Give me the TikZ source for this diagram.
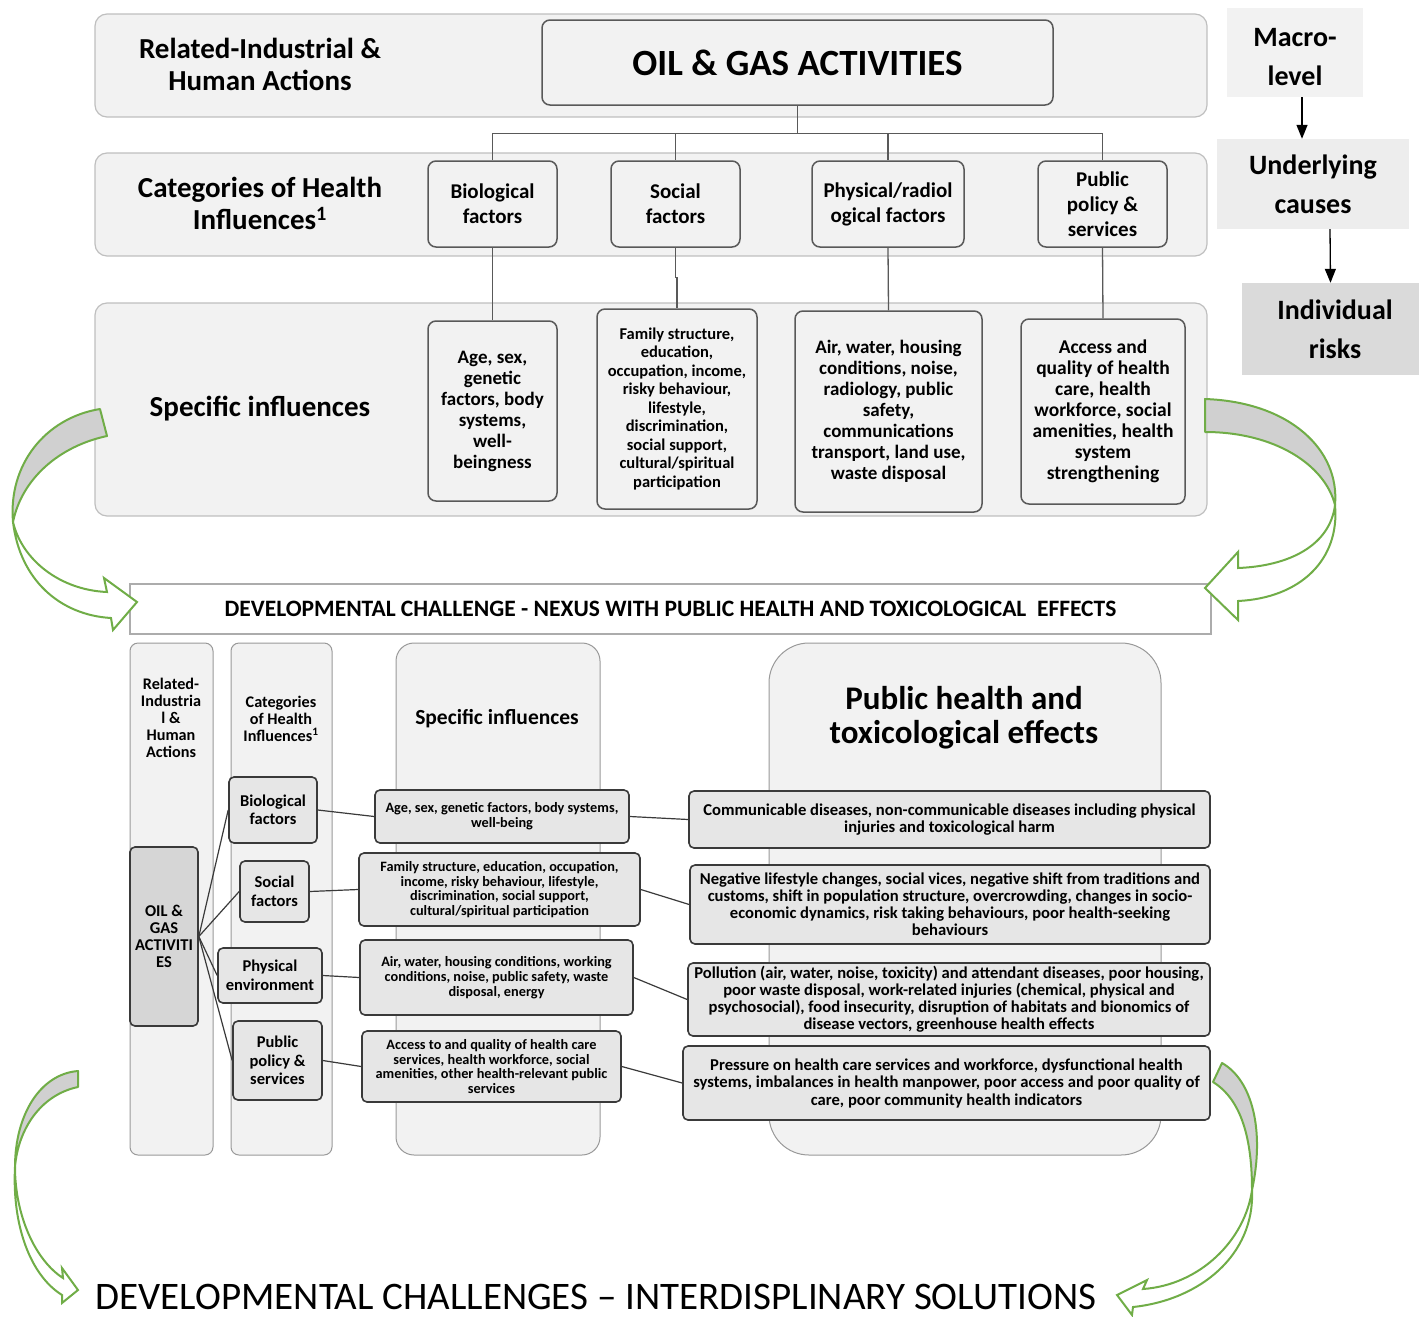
\documentclass[tikz,border=0pt]{standalone}
\usepackage{fontspec}
\setmainfont{Carlito}
\usetikzlibrary{arrows.meta,positioning,calc}
\definecolor{bandfill}{HTML}{F2F2F2}
\definecolor{bandline}{HTML}{BFBFBF}
\definecolor{boxline}{HTML}{595959}
\definecolor{darkline}{HTML}{3A3A3A}
\definecolor{oilfill}{HTML}{D6D6D6}
\definecolor{causefill}{HTML}{EDEDED}
\definecolor{riskfill}{HTML}{DADADA}
\definecolor{arrowgreen}{HTML}{70AD47}
\definecolor{arrowgray}{HTML}{D0D0D0}
\newcommand{\fsz}[2]{\fontsize{#1}{#2}\selectfont\bfseries}
\tikzset{
    band/.style = {draw=bandline, fill=bandfill, line width=1.2pt, rounded corners=12pt, inner sep=0pt},
    row-label/.style = {align=center, font=\fsz{29}{32}},
    top-box/.style = {draw=boxline, fill=bandfill, line width=1.5pt, rounded corners=8pt, inner sep=0pt, align=center, font=\fsz{21}{25}},
    level-box/.style = {inner sep=0pt, align=center, font=\fsz{28}{39}},
    level-arrow/.style = {draw=black, line width=1.3pt, -{Triangle[length=14pt,width=11pt]}},
    tree/.style = {draw=boxline, line width=1.3pt},
    banner/.style = {draw=bandline!90!black, fill=white, line width=1.2pt, inner sep=0pt, font=\fsz{23.5}{27}},
    column/.style = {draw=bandline!80!black, fill=bandfill, line width=1pt, rounded corners=8pt, inner sep=0pt},
    col-label/.style = {align=center, font=\fsz{16.2}{17}},
    low-box/.style = {draw=darkline, fill=bandfill!95!black, line width=1.6pt, rounded corners=5pt, inner sep=0pt, align=center},
    link/.style = {draw=darkline, line width=1.2pt},
    curve-back/.style = {draw=arrowgreen, fill=arrowgray, line width=2pt, line join=round},
    curve-front/.style = {draw=arrowgreen, fill=white, line width=2pt},
}
\begin{document}
\begin{tikzpicture}[x=1pt, y=-1pt]
\useasboundingbox (0,0) rectangle (1419,1317);

% upper scheme
\node[band, minimum width=1112pt, minimum height=103pt] (rowact) at (651,65.5) {};
\node[band, minimum width=1112pt, minimum height=103pt] (rowcat) at (651,204.5) {};
\node[band, minimum width=1112pt, minimum height=213pt] (rowspec) at (651,409.5) {};
\node[row-label] (actlabel) at (260,64) {Related-Industrial \&\\Human Actions};
\node[row-label] (catlabel) at (260,203) {Categories of Health\\Influences\textsuperscript{1}};
\node[row-label] (speclabel) at (260,409) {Specific influences};

\node[top-box, minimum width=511pt, minimum height=85pt, font=\fsz{37}{40}] (oil) at (797.5,62.5) {OIL \& GAS ACTIVITIES};
\node[top-box, minimum width=129pt, minimum height=86pt] (bio) at (492.5,204) {Biological\\factors};
\node[top-box, minimum width=129pt, minimum height=86pt] (soc) at (675.5,204) {Social\\factors};
\node[top-box, minimum width=152pt, minimum height=86pt] (phys) at (888,204) {Physical/radiol\\ogical factors};
\node[top-box, minimum width=129pt, minimum height=86pt] (pub) at (1102.5,204) {Public\\policy \&\\services};

\node[top-box, minimum width=129pt, minimum height=180pt, font=\fsz{19}{21}] (age) at (492.5,411) {Age, sex,\\genetic\\factors, body\\systems,\\well-\\beingness};
\node[top-box, minimum width=160pt, minimum height=200pt, font=\fsz{16.5}{18.5}] (fam) at (677,409) {Family structure,\\education,\\occupation, income,\\risky behaviour,\\lifestyle,\\discrimination,\\social support,\\cultural/spiritual\\participation};
\node[top-box, minimum width=187pt, minimum height=201pt, font=\fsz{19}{21}] (air) at (888.5,411.5) {Air, water, housing\\conditions, noise,\\radiology, public\\safety,\\communications\\transport, land use,\\waste disposal};
\node[top-box, minimum width=164pt, minimum height=185pt, font=\fsz{19.5}{21}] (acc) at (1103,411.5) {Access and\\quality of health\\care, health\\workforce, social\\amenities, health\\system\\strengthening};

\draw[tree] (oil.south) -- ++(0,28) coordinate (fork);
\foreach \n in {bio,soc,phys,pub} \draw[tree] (fork) -| (\n.north);
\draw[tree] (bio.south) -- (age.north);
\draw[tree] (soc.south) -- ++(0,30) -| (fam.north);
\draw[tree] (phys.south) -- (air.north);
\draw[tree] (pub.south) -- (acc.north);

% levels
\node[level-box, fill=bandfill, minimum width=136pt, minimum height=89pt, text height=67pt] (macro) at (1295,52.5) {Macro-\\level};
\node[level-box, fill=causefill, minimum width=192pt, minimum height=90pt] (cause) at (1313,184) {Underlying\\causes};
\node[level-box, fill=riskfill, minimum width=177pt, minimum height=92pt] (risk) at (1330.5,329) {\hspace*{9pt}Individual\\\hspace*{9pt}risks};
\draw[level-arrow] ([xshift=7pt]macro.south) -- ([xshift=-11pt]cause.north);
\draw[level-arrow] ([xshift=17pt]cause.south) -- (risk.north);

\node[banner, minimum width=1081pt, minimum height=50pt] (nexus) at (670.5,609) {DEVELOPMENTAL CHALLENGE - NEXUS WITH PUBLIC HEALTH AND TOXICOLOGICAL\ \ EFFECTS};

% lower scheme
\node[column, minimum width=83pt, minimum height=512pt] (colact) at (171.5,899) {};
\node[column, minimum width=101pt, minimum height=512pt] (colcat) at (281.5,899) {};
\node[column, minimum width=204pt, minimum height=512pt, rounded corners=18pt] (colspec) at (498,899) {};
\node[column, minimum width=392pt, minimum height=512pt, rounded corners=40pt] (coleff) at (965,899) {};
\node[col-label] (colactlabel) at (171,718) {Related-\\Industria\\l \&\\Human\\Actions};
\node[col-label] (colcatlabel) at (281,719) {Categories\\of Health\\Influences\textsuperscript{1}};
\node[col-label, font=\fsz{21.5}{24}] (colspeclabel) at (497,719) {Specific influences};
\node[col-label, font=\fsz{33}{34}] (colefflabel) at (964,718) {Public health and\\toxicological effects};

\node[low-box, fill=oilfill, minimum width=68pt, minimum height=179pt, font=\fsz{16.5}{17}] (oil2) at (164,936.5) {OIL \&\\GAS\\ACTIVITI\\ES};
\node[low-box, minimum width=88pt, minimum height=66pt, font=\fsz{16.5}{18}] (bio2) at (273,810) {Biological\\factors};
\node[low-box, minimum width=69pt, minimum height=61pt, font=\fsz{16.5}{19}] (soc2) at (274.5,891.5) {Social\\factors};
\node[low-box, minimum width=104pt, minimum height=55pt, font=\fsz{16.5}{19}] (phys2) at (270,975.5) {Physical\\environment};
\node[low-box, minimum width=89pt, minimum height=79pt, font=\fsz{16.5}{18.5}] (pub2) at (277.5,1060.5) {Public\\policy \&\\services};

\node[low-box, minimum width=254pt, minimum height=53pt, font=\fsz{14.3}{14.7}] (infl1) at (502,816.5) {Age, sex, genetic factors, body systems,\\well-being};
\node[low-box, minimum width=281pt, minimum height=73pt, font=\fsz{14.3}{14.7}] (infl2) at (499.5,889.5) {Family structure, education, occupation,\\income, risky behaviour, lifestyle,\\discrimination, social support,\\cultural/spiritual participation};
\node[low-box, minimum width=273pt, minimum height=75pt, font=\fsz{14.3}{14.7}] (infl3) at (496.5,977.5) {Air, water, housing conditions, working\\conditions, noise, public safety, waste\\disposal, energy};
\node[low-box, minimum width=259pt, minimum height=71pt, font=\fsz{14.3}{14.7}] (infl4) at (491.5,1066.5) {Access to and quality of health care\\services, health workforce, social\\amenities, other health-relevant public\\services};

\node[low-box, minimum width=521pt, minimum height=57pt, font=\fsz{16.6}{17}] (eff1) at (949.5,819.5) {Communicable diseases, non-communicable diseases including physical\\injuries and toxicological harm};
\node[low-box, minimum width=520pt, minimum height=79pt, font=\fsz{16.6}{17}] (eff2) at (950,904.5) {Negative lifestyle changes, social vices, negative shift from traditions and\\customs, shift in population structure, overcrowding, changes in socio-\\economic dynamics, risk taking behaviours, poor health-seeking\\behaviours};
\node[low-box, minimum width=522pt, minimum height=73pt, font=\fsz{16.6}{17}] (eff3) at (949,999.5) {Pollution (air, water, noise, toxicity) and attendant diseases, poor housing,\\poor waste disposal, work-related injuries (chemical, physical and\\psychosocial), food insecurity, disruption of habitats and bionomics of\\disease vectors, greenhouse health effects};
\node[low-box, minimum width=527pt, minimum height=74pt, font=\fsz{16.6}{17.5}] (eff4) at (946.5,1083) {Pressure on health care services and workforce, dysfunctional health\\systems, imbalances in health manpower, poor access and poor quality of\\care, poor community health indicators};

\foreach \c/\s/\e in {bio2/infl1/eff1, soc2/infl2/eff2, phys2/infl3/eff3, pub2/infl4/eff4} {
    \draw[link] (oil2.east) -- (\c.west);
    \draw[link] (\c.east) -- (\s.west);
    \draw[link] (\s.east) -- (\e.west);
}

\node[inner sep=0pt, font=\fontsize{39}{42}\selectfont] (solutions) at (596,1297) {DEVELOPMENTAL CHALLENGES – INTERDISPLINARY SOLUTIONS};

% curved arrows
\path[curve-back] (100,409) .. controls (45,418) and (8,465) .. (13,522) .. controls (22,478) and (60,446) .. (107,436) -- cycle;
\path[curve-front] (13,522) .. controls (22,560) and (60,590) .. (107,592) -- (104,578) -- (137,602) -- (113,630) -- (111,618) .. controls (60,615) and (20,580) .. (13,522) -- cycle;
\path[curve-back] (1205,399) .. controls (1290,402) and (1340,450) .. (1335,505) .. controls (1325,465) and (1275,432) .. (1205,432) -- cycle;
\path[curve-front] (1335,505) .. controls (1330,545) and (1290,566) .. (1238,568) -- (1238,552) -- (1205,588) -- (1238,620) -- (1238,601) .. controls (1300,598) and (1340,560) .. (1335,505) -- cycle;
\path[curve-back] (78,1071) .. controls (40,1074) and (15,1115) .. (15,1167) .. controls (18,1130) and (40,1095) .. (78,1087) -- cycle;
\path[curve-front] (15,1167) .. controls (15,1215) and (35,1260) .. (63,1278) -- (62,1268) -- (78,1290) -- (62,1303) -- (62,1295) .. controls (30,1275) and (12,1225) .. (15,1167) -- cycle;
\path[curve-back] (1222,1063) .. controls (1252,1080) and (1265,1130) .. (1252,1190) .. controls (1252,1140) and (1242,1100) .. (1213,1082) -- cycle;
\path[curve-front] (1252,1190) .. controls (1245,1240) and (1200,1285) .. (1143,1289) -- (1147,1280) -- (1117,1295) -- (1132,1315) -- (1133,1307) .. controls (1200,1300) and (1255,1255) .. (1252,1190) -- cycle;
\end{tikzpicture}
\end{document}
